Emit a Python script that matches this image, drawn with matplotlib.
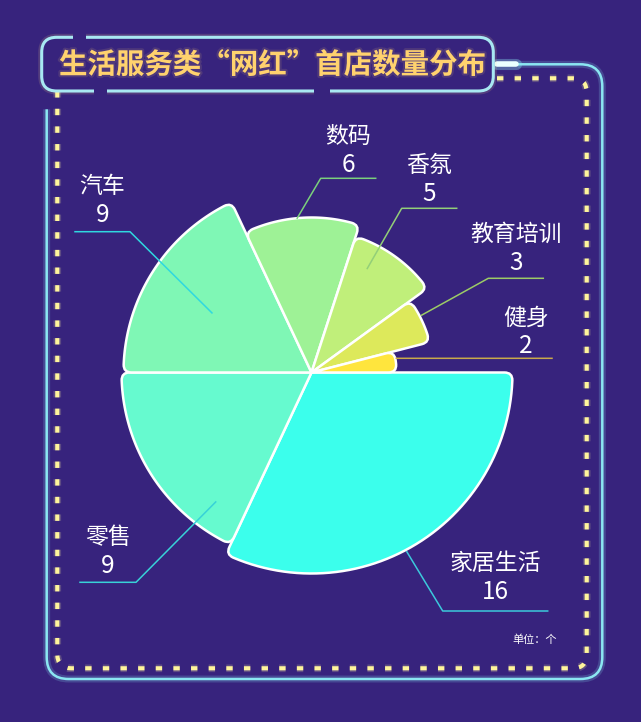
import numpy as np
import matplotlib
matplotlib.use("Agg")
import matplotlib.pyplot as plt
from matplotlib.path import Path
from matplotlib.patches import PathPatch, FancyBboxPatch, Rectangle
import matplotlib.patheffects as pe

plt.rcParams['font.family'] = ['Noto Sans CJK SC', 'DejaVu Sans']
plt.rcParams['lines.scale_dashes'] = False

# Data (slice order: clockwise from 3 o'clock)
categories = ["家居生活", "零售", "汽车", "数码", "香氛", "教育培训", "健身"]
counts = [16, 9, 9, 6, 5, 3, 2]
title = "生活服务类“网红”首店数量分布"
unit_note = "单位：个"

# Styles
BG = "#37237d"
slice_colors = ["#3bffec", "#66facf", "#7ff7b5", "#9ef296", "#c0ef7a", "#dde95b", "#ffe53d"]
line_colors = ["#3cc9dc", "#38d2d8", "#2fd8e0", "#7bd07c", "#93cf78", "#9ccb66", "#c9a94a"]
radius_px = [201, 190, 188, 155, 143, 122, 85]
CX, CY = 311.5, 372.5
# label layout: leader start (polar deg, r), bend point, horizontal segment length
leader_start = [(-62.0, 203), (-126.5, 161), (149.1, 116), (95.3, 155),
                (61.8, 118), (27.5, 124), (9.5, 86)]
leader_bend = [(442.7, 611), (136, 582.3), (130, 231.7), (320.7, 178.3),
               (401.7, 208.3), (488.3, 278.3), (500, 358.3)]
leader_len = [105, -56, -55, 55, 55, 55, 52]
num_gap = [12, 9.5, 10, 6, 7.5, 8.3, 5]

fig = plt.figure(figsize=(6.41, 7.22), dpi=100, facecolor=BG)
ax = fig.add_axes([0, 0, 1, 1])
ax.set_facecolor(BG)
ax.set_xlim(0, 641)
ax.set_ylim(722, 0)
ax.axis('off')


def pol(r, deg):
    t = np.radians(deg)
    return (CX + r * np.cos(t), CY - r * np.sin(t))


def wedge_path(r, a, b, rc=8):
    # rounded outer corners, sharp centre
    d = np.degrees(rc / r)
    verts = [(CX, CY), pol(r - rc, a), pol(r, a), pol(r, a + d)]
    codes = [Path.MOVETO, Path.LINETO, Path.CURVE3, Path.CURVE3]
    for t in np.linspace(a + d, b - d, 60)[1:-1]:
        verts.append(pol(r, t))
        codes.append(Path.LINETO)
    verts += [pol(r, b - d), pol(r, b), pol(r - rc, b), (CX, CY), (CX, CY)]
    codes += [Path.LINETO, Path.CURVE3, Path.CURVE3, Path.LINETO, Path.CLOSEPOLY]
    return Path(verts, codes)


def rounded_path(pts, rad):
    pts = [np.array(p, float) for p in pts]
    verts = [pts[0]]
    codes = [Path.MOVETO]
    for i in range(1, len(pts) - 1):
        p0, p1, p2 = pts[i - 1], pts[i], pts[i + 1]
        d1 = (p0 - p1) / np.linalg.norm(p0 - p1)
        d2 = (p2 - p1) / np.linalg.norm(p2 - p1)
        verts += [p1 + d1 * rad, p1, p1 + d2 * rad]
        codes += [Path.LINETO, Path.CURVE3, Path.CURVE3]
    verts.append(pts[-1])
    codes.append(Path.LINETO)
    return Path(verts, codes)


# --- frame decorations ---
cyan = "#8be6f2"
glow_cyan = [pe.Stroke(linewidth=5, foreground=cyan, alpha=0.2), pe.Normal()]
outer = rounded_path([(518, 64.3), (602.3, 64.3), (602.3, 679), (46.7, 679), (46.7, 109.3)], 22)
ax.add_patch(PathPatch(outer, fill=False, edgecolor=cyan, lw=1.8, path_effects=glow_cyan, zorder=2))
ax.plot([497, 516], [64.3, 64.3], color="#eaffff", lw=4, solid_capstyle='round',
        path_effects=[pe.Stroke(linewidth=8, foreground=cyan, alpha=0.35), pe.Normal()], zorder=3)

dashed = rounded_path([(497, 78.3), (586.7, 78.3), (586.7, 668.3), (57.3, 668.3), (57.3, 90.7)], 14)
ax.add_patch(PathPatch(dashed, fill=False, edgecolor="#fff59c", lw=3, linestyle=(0, (4.6, 8.1)),
                       capstyle='butt', joinstyle='round', zorder=2,
                       path_effects=[pe.Stroke(linewidth=5.5, foreground="#fff59c", alpha=0.2),
                                     pe.Normal()]))

# title box
box = FancyBboxPatch((41.7, 37.3), 451.6, 53.7, boxstyle="round,pad=0,rounding_size=15",
                     facecolor=BG, edgecolor="#a8e8f2", lw=2.2, zorder=3,
                     path_effects=[pe.Stroke(linewidth=5, foreground="#ffd98a", alpha=0.15), pe.Normal()])
ax.add_patch(box)
for x0, x1, y in [(73, 86, 37.3), (94, 107, 91), (314, 330, 91)]:
    ax.add_patch(Rectangle((x0, y - 5), x1 - x0, 10, facecolor=BG, edgecolor='none', zorder=4))
ax.text(272.7, 65.5, title, color="#ffd26e", fontsize=20.5, fontweight='bold',
        ha='center', va='center', zorder=5,
        path_effects=[pe.Stroke(linewidth=3, foreground="#ffd26e", alpha=0.12), pe.Normal()])

# --- pie ---
total = sum(counts)
start = 0.0
for i, v in enumerate(counts):
    sweep = v / total * 360
    a, b = start - sweep, start
    ax.add_patch(PathPatch(wedge_path(radius_px[i], a, b), facecolor=slice_colors[i],
                           edgecolor="white", lw=1.8, zorder=6))
    start = a

# --- labels ---
for i, name in enumerate(categories):
    sx, sy = pol(leader_start[i][1], leader_start[i][0])
    bx, by = leader_bend[i]
    ex = bx + leader_len[i]
    ax.plot([sx, bx, ex], [sy, by, by], color=line_colors[i], lw=1.1, zorder=7)
    tx = bx + leader_len[i] / 2
    nb = by - num_gap[i]
    ax.text(tx, nb, str(counts[i]), color="white", fontsize=17.5, fontweight='medium',
            ha='center', va='baseline', zorder=8)
    ax.text(tx, nb - 29, name, color="white", fontsize=16.5, fontweight='medium',
            ha='center', va='baseline', zorder=8)

ax.text(535, 639.5, unit_note, color="white", fontsize=8, fontweight='medium',
        ha='center', va='center', zorder=8)

fig.savefig("out.png", dpi=100, facecolor=BG)
